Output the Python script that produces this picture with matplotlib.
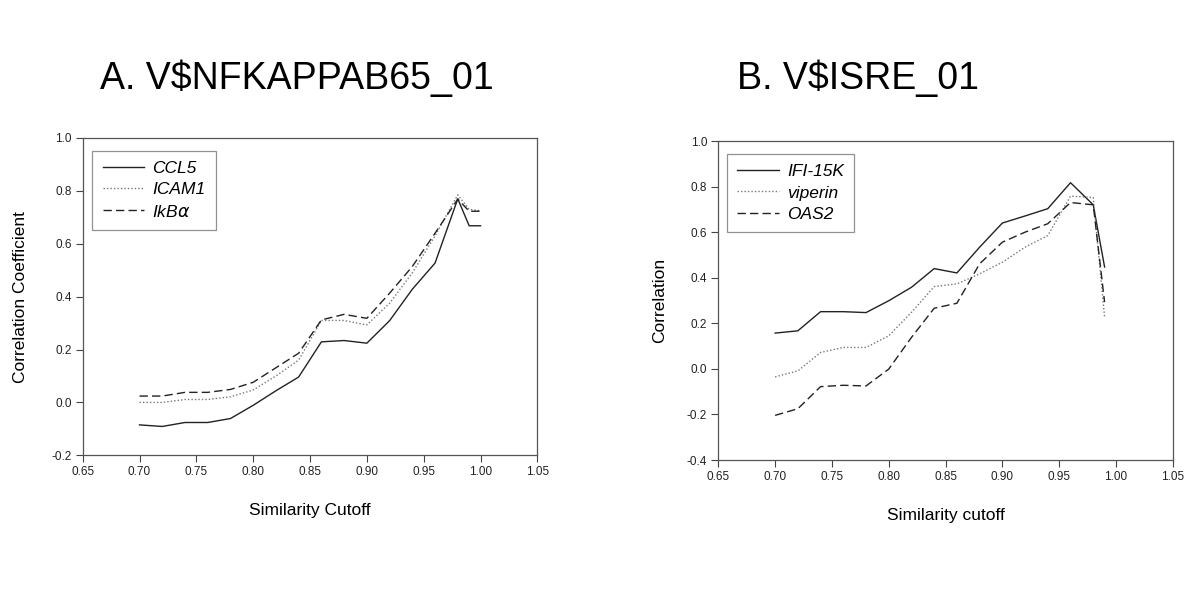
import matplotlib.pyplot as plt

plt.rcParams['font.family'] = ['Liberation Sans', 'DejaVu Sans']

# panel A
x_a = [0.70, 0.72, 0.74, 0.76, 0.78, 0.80, 0.82, 0.84, 0.86, 0.88, 0.90,
       0.92, 0.94, 0.96, 0.98, 0.99, 1.00]
ccl5 = [-0.085, -0.091, -0.076, -0.076, -0.061, -0.011, 0.044, 0.096, 0.229,
        0.234, 0.224, 0.309, 0.428, 0.527, 0.770, 0.668, 0.668]
icam1 = [0.000, 0.000, 0.011, 0.011, 0.021, 0.047, 0.100, 0.160, 0.310,
         0.310, 0.293, 0.375, 0.490, 0.630, 0.785, 0.730, 0.725]
ikba = [0.024, 0.024, 0.038, 0.038, 0.049, 0.076, 0.131, 0.186, 0.312,
        0.333, 0.318, 0.413, 0.514, 0.640, 0.769, 0.723, 0.723]

# panel B
x_b = [0.70, 0.72, 0.74, 0.76, 0.78, 0.80, 0.82, 0.84, 0.86, 0.88, 0.90,
       0.92, 0.94, 0.96, 0.98, 0.99]
ifi15k = [0.157, 0.167, 0.251, 0.251, 0.247, 0.299, 0.358, 0.440, 0.421,
          0.534, 0.640, 0.671, 0.703, 0.817, 0.720, 0.447]
viperin = [-0.035, -0.009, 0.072, 0.094, 0.094, 0.145, 0.248, 0.361, 0.373,
           0.417, 0.468, 0.534, 0.585, 0.758, 0.752, 0.227]
oas2 = [-0.204, -0.175, -0.078, -0.072, -0.075, -0.001, 0.138, 0.266, 0.288,
        0.461, 0.556, 0.600, 0.637, 0.730, 0.720, 0.293]

xticks = [0.65, 0.70, 0.75, 0.80, 0.85, 0.90, 0.95, 1.00, 1.05]

fig = plt.figure(figsize=(12, 6), dpi=100)
ax1 = fig.add_axes([0.0689, 0.2412, 0.3789, 0.5288])
ax2 = fig.add_axes([0.5986, 0.2333, 0.3787, 0.5317])


def style(ax, yticks, ylabel, xlabel, ylx):
    ax.set_xlim(0.65, 1.05)
    ax.set_ylim(yticks[0], yticks[-1])
    ax.set_xticks(xticks)
    ax.set_xticklabels(['%.2f' % v for v in xticks])
    ax.set_yticks(yticks)
    ax.set_yticklabels(['%.1f' % v for v in yticks])
    ax.tick_params(direction='out', length=5, width=0.8, color='#444444',
                   labelsize=8.5, labelcolor='#222222', pad=3)
    for s in ax.spines.values():
        s.set_color('#555555')
        s.set_linewidth(0.9)
    ax.set_xlabel(xlabel, fontsize=12.5)
    ax.set_ylabel(ylabel, fontsize=12.5)
    ax.xaxis.set_label_coords(0.5, -0.15)
    ax.yaxis.set_label_coords(ylx, 0.5)


ax1.plot(x_a, ccl5, color='#222222', lw=1.0, label='CCL5')
ax1.plot(x_a, icam1, color='#777777', lw=1.0, ls=(0, (1, 1.5)), label='ICAM1')
ax1.plot(x_a, ikba, color='#222222', lw=1.0, ls=(0, (6, 3)), label=r'IkB$\alpha$')
style(ax1, [-0.2, 0.0, 0.2, 0.4, 0.6, 0.8, 1.0], 'Correlation Coefficient',
      'Similarity Cutoff', -0.12)

ax2.plot(x_b, ifi15k, color='#222222', lw=1.0, label='IFI-15K')
ax2.plot(x_b, viperin, color='#777777', lw=1.0, ls=(0, (1, 1.5)), label='viperin')
ax2.plot(x_b, oas2, color='#222222', lw=1.0, ls=(0, (6, 3)), label='OAS2')
style(ax2, [-0.4, -0.2, 0.0, 0.2, 0.4, 0.6, 0.8, 1.0], 'Correlation',
      'Similarity cutoff', -0.113)

for ax, anchor in [(ax1, (0.021, 0.96)), (ax2, (0.019, 0.96))]:
    leg = ax.legend(loc='upper left', bbox_to_anchor=anchor, borderaxespad=0,
                    fancybox=False, handlelength=2.4, handletextpad=0.45,
                    labelspacing=0.35, borderpad=0.6,
                    prop={'style': 'italic', 'size': 12.5})
    leg.get_frame().set_edgecolor('#777777')
    leg.get_frame().set_linewidth(0.9)

fig.text(0.0836, 0.869, 'A. V$NFKAPPAB65_01', fontsize=27, va='center', ha='left')
fig.text(0.614, 0.869, 'B. V$ISRE_01', fontsize=27, va='center', ha='left')

fig.savefig('out.png', dpi=100)
